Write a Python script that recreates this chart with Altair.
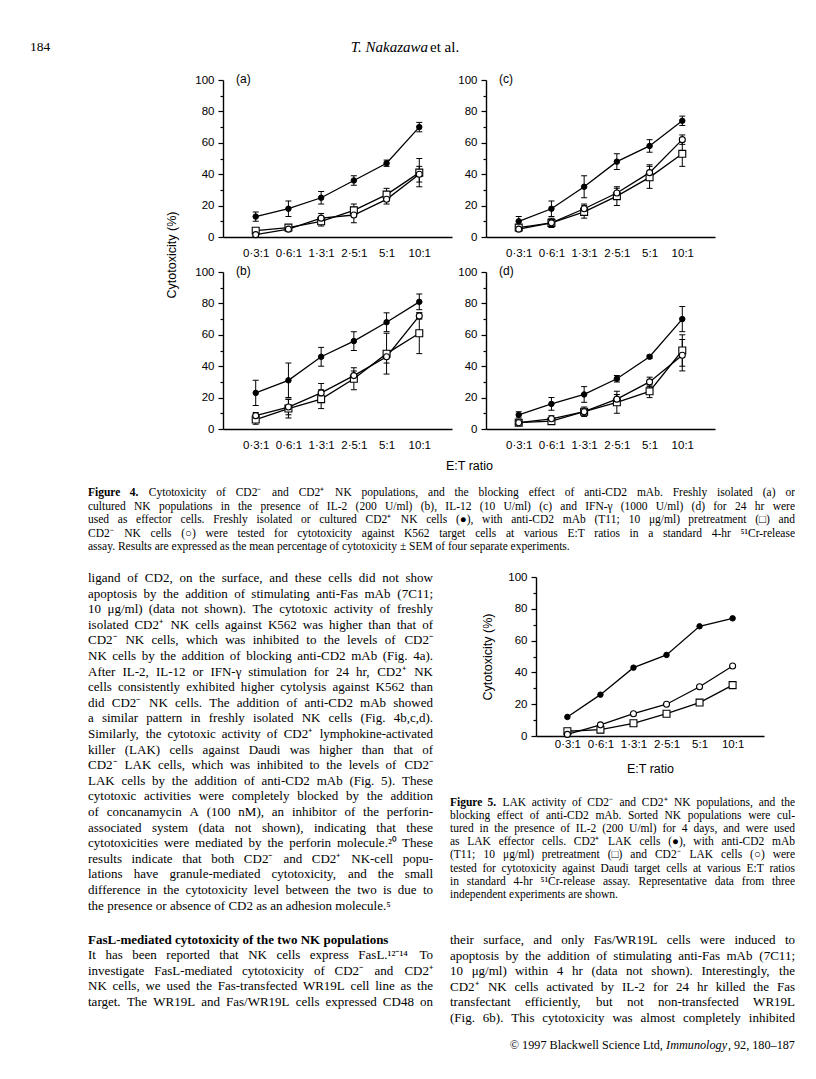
import altair as alt
import pandas as pd

SANS = "Liberation Sans"
SERIF = "Liberation Serif"

ratios = ["0·3:1", "0·6:1", "1·3:1", "2·5:1", "5:1", "10:1"]

# Figure 4 (a) freshly isolated
a_pos = [13, 18, 25, 36, 47, 70]
a_pos_err = [3, 5, 4, 3, 2, 3]
a_mab = [4, 6, 10, 17, 27, 41]
a_mab_err = [1, 1, 3, 4, 4, 9]
a_neg = [1.5, 5, 12, 14, 24, 40]
a_neg_err = [1, 1, 3, 5, 3, 5]
# (b) IL-2
b_pos = [23, 31, 46, 56, 68, 81]
b_pos_err = [8, 11, 6, 6, 6, 5]
b_mab = [6, 13, 19, 32, 48, 61]
b_mab_err = [3, 6, 6, 7, 13, 13]
b_neg = [8.5, 14, 23, 34, 46, 72]
b_neg_err = [2, 5, 6, 3, 4, 2]
# (c) IL-12
c_pos = [10, 18, 32, 48, 58, 74]
c_pos_err = [3, 5, 7, 5, 4, 3]
c_mab = [6, 9, 16, 26, 38, 53]
c_mab_err = [1, 3, 4, 6, 7, 8]
c_neg = [5, 9, 18, 28, 41, 62]
c_neg_err = [1, 2, 3, 3, 5, 3]
# (d) IFN-gamma
d_pos = [9, 16, 22, 32, 46, 70]
d_pos_err = [2, 4, 5, 2, 1, 8]
d_mab = [4, 5, 11, 17, 24, 50]
d_mab_err = [1, 1, 3, 7, 4, 10]
d_neg = [4, 6.5, 11, 19, 30, 47]
d_neg_err = [1, 2, 2, 3, 3, 10]
# Figure 5 LAK
f5_pos = [12, 26, 43, 51, 69, 74]
f5_mab = [3, 4, 8, 14, 21, 32]
f5_neg = [1, 7, 14, 20, 31, 44]

header_num = ["184"]
header_author = ["T. Nakazawa"]
header_etal = ["et al."]

cap4 = [
    "Figure 4. Cytotoxicity of CD2⁻ and CD2⁺ NK populations, and the blocking effect of anti-CD2 mAb. Freshly isolated (a) or",
    "cultured NK populations in the presence of IL-2 (200 U/ml) (b), IL-12 (10 U/ml) (c) and IFN-γ (1000 U/ml) (d) for 24 hr were",
    "used as effector cells. Freshly isolated or cultured CD2⁺ NK cells (●), with anti-CD2 mAb (T11; 10 μg/ml) pretreatment (□) and",
    "CD2⁻ NK cells (○) were tested for cytotoxicity against K562 target cells at various E:T ratios in a standard 4-hr ⁵¹Cr-release",
    "assay. Results are expressed as the mean percentage of cytotoxicity ± SEM of four separate experiments.",
]
body_left = [
    "ligand of CD2, on the surface, and these cells did not show",
    "apoptosis by the addition of stimulating anti-Fas mAb (7C11;",
    "10 μg/ml) (data not shown). The cytotoxic activity of freshly",
    "isolated CD2⁺ NK cells against K562 was higher than that of",
    "CD2⁻ NK cells, which was inhibited to the levels of CD2⁻",
    "NK cells by the addition of blocking anti-CD2 mAb (Fig. 4a).",
    "After IL-2, IL-12 or IFN-γ stimulation for 24 hr, CD2⁺ NK",
    "cells consistently exhibited higher cytolysis against K562 than",
    "did CD2⁻ NK cells. The addition of anti-CD2 mAb showed",
    "a similar pattern in freshly isolated NK cells (Fig. 4b,c,d).",
    "Similarly, the cytotoxic activity of CD2⁺ lymphokine-activated",
    "killer (LAK) cells against Daudi was higher than that of",
    "CD2⁻ LAK cells, which was inhibited to the levels of CD2⁻",
    "LAK cells by the addition of anti-CD2 mAb (Fig. 5). These",
    "cytotoxic activities were completely blocked by the addition",
    "of concanamycin A (100 nM), an inhibitor of the perforin-",
    "associated system (data not shown), indicating that these",
    "cytotoxicities were mediated by the perforin molecule.²⁰ These",
    "results indicate that both CD2⁻ and CD2⁺ NK-cell popu-",
    "lations have granule-mediated cytotoxicity, and the small",
    "difference in the cytotoxicity level between the two is due to",
    "the presence or absence of CD2 as an adhesion molecule.⁵",
]
heading = ["FasL-mediated cytotoxicity of the two NK populations"]
body_left2 = [
    "It has been reported that NK cells express FasL.¹²⁻¹⁴ To",
    "investigate FasL-mediated cytotoxicity of CD2⁻ and CD2⁺",
    "NK cells, we used the Fas-transfected WR19L cell line as the",
    "target. The WR19L and Fas/WR19L cells expressed CD48 on",
]
cap5 = [
    "Figure 5. LAK activity of CD2⁻ and CD2⁺ NK populations, and the",
    "blocking effect of anti-CD2 mAb. Sorted NK populations were cul-",
    "tured in the presence of IL-2 (200 U/ml) for 4 days, and were used",
    "as LAK effector cells. CD2⁺ LAK cells (●), with anti-CD2 mAb",
    "(T11; 10 μg/ml) pretreatment (□) and CD2⁻ LAK cells (○) were",
    "tested for cytotoxicity against Daudi target cells at various E:T ratios",
    "in standard 4-hr ⁵¹Cr-release assay. Representative data from three",
    "independent experiments are shown.",
]
body_right = [
    "their surface, and only Fas/WR19L cells were induced to",
    "apoptosis by the addition of stimulating anti-Fas mAb (7C11;",
    "10 μg/ml) within 4 hr (data not shown). Interestingly, the",
    "CD2⁺ NK cells activated by IL-2 for 24 hr killed the Fas",
    "transfectant efficiently, but not non-transfected WR19L",
    "(Fig. 6b). This cytotoxicity was almost completely inhibited",
]
footer_a = ["© 1997 Blackwell Science Ltd, "]
footer_b = ["Immunology"]
footer_c = [", 92, 180–187"]

# approximate Times advance widths (per 1000 em) used only for justifying lines
_W = {" ": 250, "(": 333, ")": 333, ",": 250, "-": 333, ".": 250, "/": 278, ":": 278, ";": 278,
      "A": 722, "B": 667, "C": 667, "D": 722, "E": 611, "F": 556, "G": 722, "H": 722, "I": 333,
      "J": 389, "K": 722, "L": 611, "M": 889, "N": 722, "O": 722, "P": 556, "Q": 722, "R": 667,
      "S": 556, "T": 611, "U": 722, "V": 722, "W": 944, "X": 722, "Y": 722, "Z": 611,
      "a": 444, "b": 500, "c": 444, "d": 500, "e": 444, "f": 333, "g": 500, "h": 500, "i": 278,
      "j": 278, "k": 500, "l": 278, "m": 778, "n": 500, "o": 500, "p": 500, "q": 500, "r": 333,
      "s": 389, "t": 278, "u": 500, "v": 500, "w": 722, "x": 500, "y": 500, "z": 444,
      "±": 564, "μ": 500, "γ": 420, "–": 500, "©": 760, "·": 250,
      "⁺": 420, "⁻": 420, "⁰": 330, "¹": 300, "²": 300, "⁴": 330, "⁵": 330,
      "●": 600, "□": 600, "○": 600}


def tw(s, size, bold=False):
    return sum(_W.get(ch, 500) for ch in s) * size / 1000 * (1.06 if bold else 1.0)


def yenc(y0, step):
    return alt.Y("i:Q", scale=alt.Scale(domain=[0, 1], range=[y0, y0 + step]), axis=None)


XENC = alt.X("px:Q", scale=alt.Scale(domain=[0, 100], range=[0, 100]), axis=None)


def text_layer(lines, x, y0, step, size, weight="normal", style="normal", align="left"):
    df = pd.DataFrame({"i": list(range(len(lines))), "t": lines, "px": [x] * len(lines)})
    return alt.Chart(df).mark_text(
        align=align, baseline="middle", font=SERIF, fontSize=size,
        fontWeight=weight, fontStyle=style, color="black"
    ).encode(x=XENC, y=yenc(y0, step), text="t:N")


def justified(lines, x0, x1, y0, step, size, last_free=True, bold_first=0):
    left, right, bold, free = [], [], [], []
    n = len(lines)
    for i, line in enumerate(lines):
        words = line.split(" ")
        if last_free and i == n - 1:
            free.append(dict(i=i, t=line, px=x0))
            continue
        isb = [(i == 0 and k < bold_first) for k in range(len(words))]
        widths = [tw(w, size, b) for w, b in zip(words, isb)]
        gap = (x1 - x0 - sum(widths)) / max(len(words) - 1, 1)
        gap = max(gap, 0.6 * tw(" ", size))
        x = x0
        for k, w in enumerate(words):
            if k == len(words) - 1 and k > 0:
                right.append(dict(i=i, t=w, px=x1))
            elif isb[k]:
                bold.append(dict(i=i, t=w, px=x))
            else:
                left.append(dict(i=i, t=w, px=x))
            x += widths[k] + gap
    layers = []
    for rows, align, weight in [(left, "left", "normal"), (right, "right", "normal"),
                                (bold, "left", "bold"), (free, "left", "normal")]:
        if rows:
            layers.append(alt.Chart(pd.DataFrame(rows)).mark_text(
                align=align, baseline="middle", font=SERIF, fontSize=size, fontWeight=weight,
                color="black").encode(x=XENC, y=yenc(y0, step), text="t:N"))
    return layers


def block(layers, w, h):
    return alt.layer(*layers).resolve_scale(x="independent", y="independent").properties(width=w, height=h)


def spacer(w, h):
    return alt.Chart(pd.DataFrame({"t": [""]})).mark_text().encode(text="t:N").properties(width=w, height=h)


def panel(series, label, w, h, pad=1.0, labpad=10, xrange=None, yoffset=0, ytitle=None, ytx=0, yty=0,
          xtitle=None, xtx=0, xty=0):
    rows = []
    has_err = False
    for name, vals, errs in series:
        for k, r in enumerate(ratios):
            e = errs[k] if errs else 0
            if errs:
                has_err = True
            rows.append(dict(ratio=r, series=name, value=vals[k], lo=vals[k] - e, hi=vals[k] + e))
    df = pd.DataFrame(rows)
    if xrange:
        xs = alt.Scale(type="point", domain=ratios, padding=pad, range=xrange)
    else:
        xs = alt.Scale(type="point", domain=ratios, padding=pad)
    ys = alt.Scale(domain=[0, 100], nice=False, zero=True)
    xkw = dict(title=None)
    if xtitle:
        xkw = dict(title=xtitle, titleX=xtx, titleY=xty, titleAlign="center", titleBaseline="middle",
                   titleFont=SANS, titleFontSize=12.5, titleFontWeight="normal", titleColor="black")
    xax = alt.Axis(ticks=False, labelFont=SANS, labelFontSize=11.5, labelColor="black",
                   labelPadding=labpad, labelAngle=0, domainColor="black", domainWidth=1.4,
                   grid=False, **xkw)
    ykw = dict(title=None)
    if ytitle:
        ykw = dict(title=ytitle, titleX=ytx, titleY=yty, titleAngle=270, titleAlign="center",
                   titleBaseline="middle", titleFont=SANS, titleFontSize=12.5,
                   titleFontWeight="normal", titleColor="black")
    if yoffset:
        ykw["offset"] = yoffset
    yax = alt.Axis(values=list(range(0, 101, 10)),
                   labelExpr="datum.value % 20 == 0 ? datum.label : ''",
                   tickSize={"condition": {"test": "datum.value % 20 != 0", "value": 3}, "value": 5},
                   tickColor="black", tickWidth=1.2, labelFont=SANS, labelFontSize=11.5,
                   labelColor="black", labelPadding=4, domainColor="black", domainWidth=1.4,
                   grid=False, **ykw)
    X = alt.X("ratio:N", scale=xs, axis=xax)

    def Y(f):
        return alt.Y(f + ":Q", scale=ys, axis=yax)

    base = alt.Chart(df)
    layers = [base.mark_line(color="black", strokeWidth=1.3).encode(x=X, y=Y("value"), detail="series:N")]
    if has_err:
        layers.append(base.mark_rule(color="black", strokeWidth=1).encode(x=X, y=Y("lo"), y2="hi:Q"))
        layers.append(base.mark_tick(color="black", orient="horizontal", size=6, thickness=1, opacity=1)
                      .encode(x=X, y=Y("lo")))
        layers.append(base.mark_tick(color="black", orient="horizontal", size=6, thickness=1, opacity=1)
                      .encode(x=X, y=Y("hi")))
    layers.append(base.transform_filter("datum.series == 'mab'").mark_point(
        shape="square", filled=True, fill="white", stroke="black", strokeWidth=1.1, size=48, opacity=1
    ).encode(x=X, y=Y("value")))
    layers.append(base.transform_filter("datum.series == 'neg'").mark_point(
        shape="circle", filled=True, fill="white", stroke="black", strokeWidth=1.1, size=36, opacity=1
    ).encode(x=X, y=Y("value")))
    layers.append(base.transform_filter("datum.series == 'pos'").mark_point(
        shape="circle", filled=True, fill="black", stroke="black", strokeWidth=1, size=30, opacity=1
    ).encode(x=X, y=Y("value")))
    if label:
        layers.append(alt.Chart(pd.DataFrame({"t": [label]})).mark_text(
            align="left", baseline="middle", font=SANS, fontSize=12, color="black"
        ).encode(x=alt.value(13), y=alt.value(-1), text="t:N"))
    return alt.layer(*layers).properties(width=w, height=h)


PW, PH = 229, 157
C0, C1, C2, C3 = 215, 229, 34, 278
R0, R1, R2, R3, R4, R5, R6 = 72, 157, 35, 157, 148, 159, 324

pa = panel([("pos", a_pos, a_pos_err), ("mab", a_mab, a_mab_err), ("neg", a_neg, a_neg_err)], "(a)", PW, PH,
           ytitle="Cytotoxicity (%)", ytx=-52, yty=174.5)
pc = panel([("pos", c_pos, c_pos_err), ("mab", c_mab, c_mab_err), ("neg", c_neg, c_neg_err)], "(c)", PW, PH)
pb = panel([("pos", b_pos, b_pos_err), ("mab", b_mab, b_mab_err), ("neg", b_neg, b_neg_err)], "(b)", PW, PH,
           xtitle="E:T ratio", xtx=246, xty=36)
pd_ = panel([("pos", d_pos, d_pos_err), ("mab", d_mab, d_mab_err), ("neg", d_neg, d_neg_err)], "(d)", PW, PH)
p5 = panel([("pos", f5_pos, None), ("mab", f5_mab, None), ("neg", f5_neg, None)], None, C3, R5,
           pad=0.95, labpad=2, xrange=[50, C3], yoffset=-50,
           ytitle="Cytotoxicity (%)", ytx=-49, yty=79.5,
           xtitle="E:T ratio", xtx=164, xty=32)

# header cell: origin at page (8, 8)
HS = 15
auth_w = tw(header_author[0], HS) * 0.95
hx = 405 - 8 - (auth_w + 4 + tw(header_etal[0], HS)) / 2
header = block([
    text_layer(header_num, 22, 39, 15, 13.5),
    text_layer(header_author, hx, 39, 15, HS, style="italic"),
    text_layer(header_etal, hx + auth_w + 4, 39, 15, HS),
], C0, R0).properties(view=alt.ViewBackground(fill="white", stroke=None))

# caption of figure 4 and left text column: origin at page (8, 429)
CS = 11.5
left_text = block(
    justified(cap4, 80, 787, 64, 13.5, CS, bold_first=2)
    + justified(body_left, 80, 425, 149, 15.6, 13)
    + [text_layer(heading, 80, 511, 15.6, 13, weight="bold")]
    + justified(body_left2, 80, 425, 526, 15.6, 13, last_free=False),
    C0, R4)

# right column text below figure 5: origin at page (486, 736)
FS = 12.2
fa, fb, fc = tw(footer_a[0], FS), tw(footer_b[0], FS) * 0.98, tw(footer_c[0], FS)
fx = 309 - (fa + fb + fc)
right_text = block(
    justified(cap5, -36, 309, 67, 13.1, CS, bold_first=2)
    + justified(body_right, -36, 309, 204, 15.6, 13, last_free=False)
    + [text_layer(footer_a, fx, 309, 15, FS),
       text_layer(footer_b, fx + fa, 309, 15, FS, style="italic"),
       text_layer(footer_c, fx + fa + fb, 309, 15, FS)],
    C3, R6)

cells = [
    header, spacer(C1, R0), spacer(C2, R0), spacer(C3, R0),
    spacer(C0, R1), pa, spacer(C2, R1), pc,
    spacer(C0, R2), spacer(C1, R2), spacer(C2, R2), spacer(C3, R2),
    spacer(C0, R3), pb, spacer(C2, R3), pd_,
    left_text, spacer(C1, R4), spacer(C2, R4), spacer(C3, R4),
    spacer(C0, R5), spacer(C1, R5), spacer(C2, R5), p5,
    spacer(C0, R6), spacer(C1, R6), spacer(C2, R6), right_text,
]

chart = alt.concat(*cells, columns=4, spacing=0, bounds="flush").properties(
    padding=0).configure_view(stroke=None)

chart.save("out.html", embed_options={"renderer": "svg", "actions": False})
